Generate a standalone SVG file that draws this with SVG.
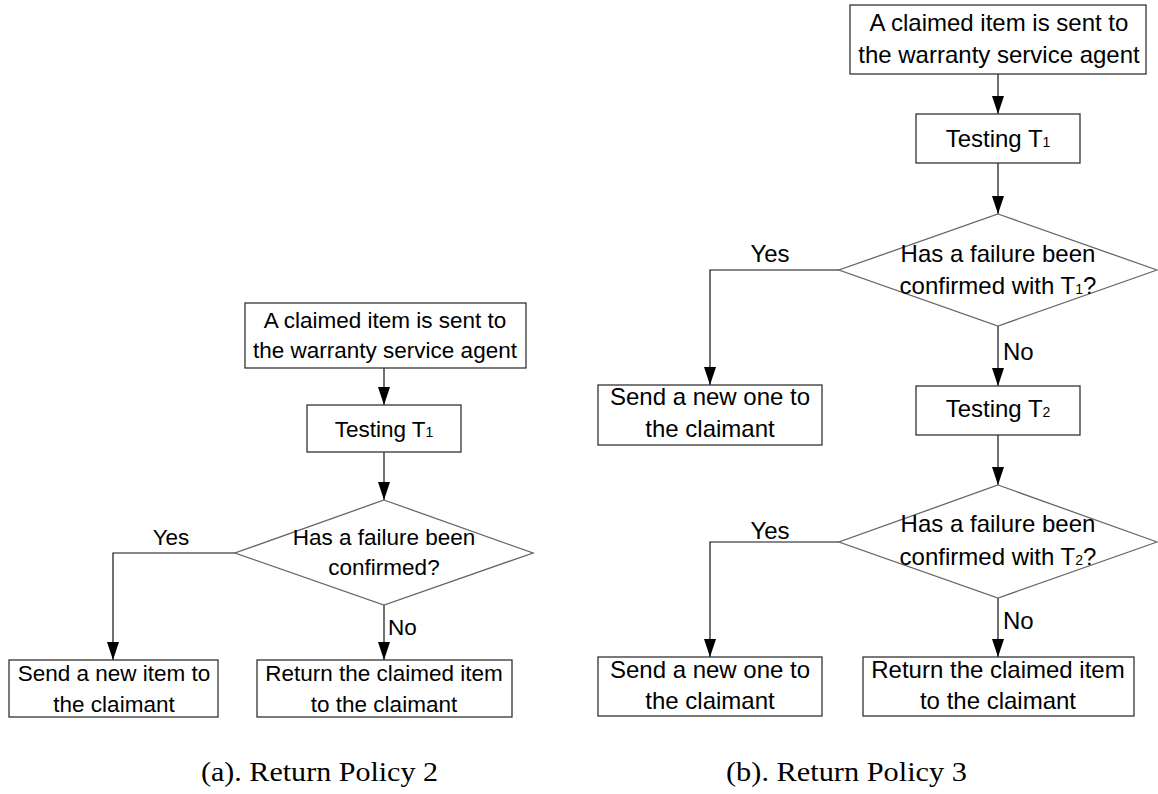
<svg xmlns="http://www.w3.org/2000/svg" width="1158" height="794" viewBox="0 0 1158 794">
<style>
.box{fill:#fff;stroke:#333;stroke-width:1.3}
.dia{fill:#fff;stroke:#666;stroke-width:1.3}
.con{fill:none;stroke:#111;stroke-width:1.2}
.tl{font-family:"Liberation Sans",Arial,sans-serif;font-size:22.5px;fill:#000;text-anchor:middle}
.tr{font-family:"Liberation Sans",Arial,sans-serif;font-size:24px;fill:#000;text-anchor:middle}
.lbl{text-anchor:start}
.sub{font-size:14px}
.cap{font-family:"Liberation Serif","Times New Roman",serif;font-size:28px;fill:#000}
</style>
<defs>
<marker id="ah" markerUnits="userSpaceOnUse" markerWidth="18" markerHeight="12" refX="18" refY="6" orient="auto">
<path d="M0,0 L18,6 L0,12 z" fill="#000"/>
</marker>
</defs>
<rect width="1158" height="794" fill="#fff"/>

<!-- Left diagram -->
<g id="connectors-a">
<path class="con" d="M384,368 L384,405" marker-end="url(#ah)"/>
<path class="con" d="M384,452 L384,500" marker-end="url(#ah)"/>
<path class="con" d="M235,553 L113,553 L113,660" marker-end="url(#ah)"/>
<path class="con" d="M384,605 L384,660" marker-end="url(#ah)"/>
<text class="tl" x="171" y="545">Yes</text>
<text class="tl lbl" x="388" y="635">No</text>
</g>
<g id="a-start">
<rect class="box" x="245" y="303" width="281" height="65"/>
<text class="tl" x="385" y="328">A claimed item is sent to</text>
<text class="tl" x="385" y="358">the warranty service agent</text>
</g>
<g id="a-test1">
<rect class="box" x="307" y="405" width="154" height="47"/>
<text class="tl" x="384" y="437">Testing T<tspan class="sub">1</tspan></text>
</g>
<g id="a-decision">
<polygon class="dia" points="384,500 533,553 384,605 235,553"/>
<text class="tl" x="384" y="545">Has a failure been</text>
<text class="tl" x="384" y="575">confirmed?</text>
</g>
<g id="a-send">
<rect class="box" x="9" y="660" width="209" height="57"/>
<text class="tl" x="114" y="681">Send a new item to</text>
<text class="tl" x="114" y="712">the claimant</text>
</g>
<g id="a-return">
<rect class="box" x="257" y="660" width="255" height="57"/>
<text class="tl" x="384" y="681">Return the claimed item</text>
<text class="tl" x="384" y="712">to the claimant</text>
</g>

<!-- Right diagram -->
<g id="connectors-b">
<path class="con" d="M998,74 L998,114" marker-end="url(#ah)"/>
<path class="con" d="M998,163 L998,214" marker-end="url(#ah)"/>
<path class="con" d="M839,270 L710,270 L710,385" marker-end="url(#ah)"/>
<path class="con" d="M998,326 L998,386" marker-end="url(#ah)"/>
<path class="con" d="M998,435 L998,485" marker-end="url(#ah)"/>
<path class="con" d="M839,542 L710,542 L710,657" marker-end="url(#ah)"/>
<path class="con" d="M998,598 L998,657" marker-end="url(#ah)"/>
<text class="tr" x="770" y="262">Yes</text>
<text class="tr lbl" x="1003" y="360">No</text>
<text class="tr" x="770" y="539">Yes</text>
<text class="tr lbl" x="1003" y="629">No</text>
</g>
<g id="b-start">
<rect class="box" x="850" y="5" width="296" height="69"/>
<text class="tr" x="999" y="31">A claimed item is sent to</text>
<text class="tr" x="999" y="63">the warranty service agent</text>
</g>
<g id="b-test1">
<rect class="box" x="916" y="114" width="164" height="49"/>
<text class="tr" x="998" y="147">Testing T<tspan class="sub">1</tspan></text>
</g>
<g id="b-decision1">
<polygon class="dia" points="998,214 1157,270 998,326 839,270"/>
<text class="tr" x="998" y="262">Has a failure been</text>
<text class="tr" x="998" y="294">confirmed with T<tspan class="sub">1</tspan>?</text>
</g>
<g id="b-send1">
<rect class="box" x="598" y="385" width="224" height="60"/>
<text class="tr" x="710" y="405">Send a new one to</text>
<text class="tr" x="710" y="437">the claimant</text>
</g>
<g id="b-test2">
<rect class="box" x="916" y="386" width="164" height="49"/>
<text class="tr" x="998" y="417">Testing T<tspan class="sub">2</tspan></text>
</g>
<g id="b-decision2">
<polygon class="dia" points="998,485 1157,542 998,598 839,542"/>
<text class="tr" x="998" y="532">Has a failure been</text>
<text class="tr" x="998" y="565">confirmed with T<tspan class="sub">2</tspan>?</text>
</g>
<g id="b-send2">
<rect class="box" x="598" y="657" width="224" height="59"/>
<text class="tr" x="710" y="678">Send a new one to</text>
<text class="tr" x="710" y="709">the claimant</text>
</g>
<g id="b-return">
<rect class="box" x="863" y="657" width="271" height="59"/>
<text class="tr" x="998" y="678">Return the claimed item</text>
<text class="tr" x="998" y="709">to the claimant</text>
</g>

<g id="captions">
<text class="cap" x="201" y="781" textLength="237" lengthAdjust="spacingAndGlyphs">(a). Return Policy 2</text>
<text class="cap" x="726" y="781" textLength="241" lengthAdjust="spacingAndGlyphs">(b). Return Policy 3</text>
</g>
</svg>
